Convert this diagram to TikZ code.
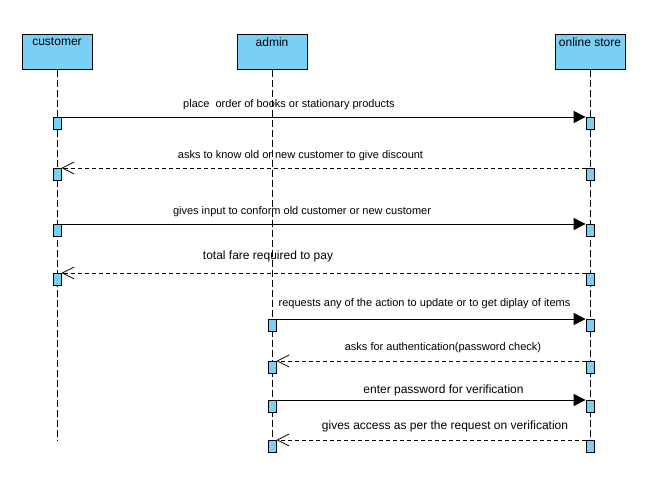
\documentclass[tikz,border=0pt]{standalone}
\usepackage{fontspec}
\setmainfont{Liberation Sans}
\usetikzlibrary{arrows.meta}
\definecolor{boxblue}{RGB}{122,207,245}
\tikzset{
  head/.style={draw=black, fill=boxblue, line width=1pt, minimum width=70pt, minimum height=35pt, inner sep=0pt},
  headtext/.style={font=\fontsize{12}{14}\selectfont, inner sep=0pt},
  act/.style={draw=black, fill=boxblue, line width=0.8pt, minimum width=8pt, minimum height=12pt, inner sep=0pt, anchor=north},
  life/.style={line width=1pt, dash pattern=on 7pt off 3pt},
  msg/.style={line width=1pt, -{Triangle[length=12pt,width=12pt]}},
  ret/.style={line width=1pt, dash pattern=on 4pt off 3pt, -{Straight Barb[length=12pt,width=12pt,line width=0.8pt]}},
  lab/.style={font=\fontsize{11}{13}\selectfont, inner sep=0pt},
  labb/.style={font=\fontsize{12}{14}\selectfont, inner sep=0pt}
}
\begin{document}
\begin{tikzpicture}[x=1pt,y=-1pt]
\useasboundingbox (0,0) rectangle (645,483);
\fill[white] (0,0) rectangle (645,483);
% headers
\node[head] (hc) at (57,51.5) {};
\node[head] (ha) at (272,51.5) {};
\node[head] (hs) at (590,51.5) {};
\node[headtext] (tc) at (57,42) {customer};
\node[headtext] (ta) at (272,42) {admin};
\node[headtext] (ts) at (590,42) {online store};
% lifeline ends
\coordinate (ec) at (57,440);
\coordinate (ea) at (272,453);
\coordinate (es) at (590,453);
\draw[life] (hc.south) -- (ec);
\draw[life] (ha.south) -- (ea);
\draw[life] (hs.south) -- (es);
% activations
\node[act] (c1) at (57,117) {};
\node[act] (s1) at (590,117) {};
\node[act] (c2) at (57,168) {};
\node[act] (s2) at (590,168) {};
\node[act] (c3) at (57,224) {};
\node[act] (s3) at (590,224) {};
\node[act] (c4) at (57,273) {};
\node[act] (s4) at (590,273) {};
\node[act] (a5) at (272,319) {};
\node[act] (s5) at (590,319) {};
\node[act] (a6) at (272,361) {};
\node[act] (s6) at (590,361) {};
\node[act] (a7) at (272,400) {};
\node[act] (s7) at (590,400) {};
\node[act] (a8) at (272,440) {};
\node[act] (s8) at (590,440) {};
% messages
\draw[msg] (c1.north east) -- (s1.north west);
\draw[ret] (s2.north west) -- (c2.north east);
\draw[msg] (c3.north east) -- (s3.north west);
\draw[ret] (s4.north west) -- (c4.north east);
\draw[msg] (a5.north east) -- (s5.north west);
\draw[ret] (s6.north west) -- (a6.north east);
\draw[msg] (a7.north east) -- (s7.north west);
\draw[ret] (s8.north west) -- (a8.north east);
% labels
\node[lab] (l1) at (289,104.5) {place\ \ order of books or stationary products};
\node[lab] (l2) at (300.5,155.5) {asks to know old or new customer to give discount};
\node[lab] (l3) at (302,211.5) {gives input to conform old customer or new customer};
\node[labb] (l4) at (268,256.5) {total fare required to pay};
\node[lab] (l5) at (424.5,303.5) {requests any of the action to update or to get diplay of items};
\node[lab] (l6) at (443,347.5) {asks for authentication(password check)};
\node[labb] (l7) at (443.5,390.5) {enter password for verification};
\node[labb] (l8) at (445,426.5) {gives access as per the request on verification};
\end{tikzpicture}
\end{document}
